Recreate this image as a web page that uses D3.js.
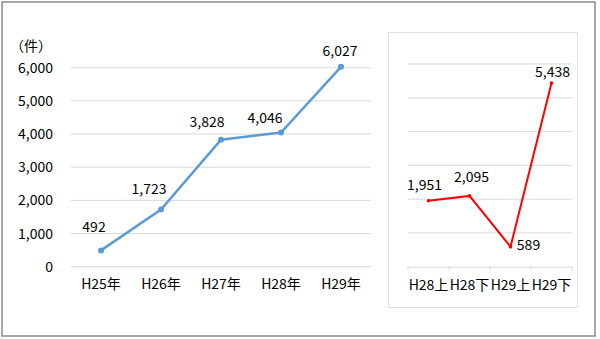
<!DOCTYPE html>
<html>
<head>
<meta charset="utf-8">
<script src="https://cdn.jsdelivr.net/npm/d3@7"></script>
<style>
body { margin: 0; background: #fff; }
text { font-family: "Noto Sans CJK JP", "Noto Sans", sans-serif; fill: #000; }
</style>
</head>
<body>
<script>
// yearly totals
var years = ["H25年", "H26年", "H27年", "H28年", "H29年"];
var yearCounts = [492, 1723, 3828, 4046, 6027];

// half-year totals
var halves = ["H28上", "H28下", "H29上", "H29下"];
var halfCounts = [1951, 2095, 589, 5438];

var yTicks = [0, 1000, 2000, 3000, 4000, 5000, 6000];

var width = 600, height = 339;
var fs = "14px";

var svg = d3.select("body").append("svg")
    .attr("width", width)
    .attr("height", height);

// outer frame
svg.append("rect")
    .attr("x", 2).attr("y", 2)
    .attr("width", 593).attr("height", 334)
    .attr("fill", "#fff")
    .attr("stroke", "#8a8a8a")
    .attr("stroke-width", 1.5);

// ---- left chart ----
var x1 = d3.scaleBand().domain(years).range([71, 371]);
var y1 = d3.scaleLinear().domain([0, 6000]).range([266.7, 67.7]);

svg.append("g").selectAll("line")
    .data(yTicks)
    .enter().append("line")
    .attr("x1", 71).attr("x2", 371)
    .attr("y1", function(d) { return y1(d); })
    .attr("y2", function(d) { return y1(d); })
    .attr("stroke", "#d9d9d9");

svg.append("g")
    .attr("transform", "translate(53,0)")
    .call(d3.axisLeft(y1).tickValues(yTicks).tickSize(0).tickPadding(0)
        .tickFormat(d3.format(",")))
    .call(function(g) { g.select(".domain").remove(); })
    .selectAll("text")
    .style("font-size", fs);

svg.append("g")
    .attr("transform", "translate(0,266.7)")
    .call(d3.axisBottom(x1).tickSize(0).tickPadding(12))
    .call(function(g) { g.select(".domain").remove(); })
    .selectAll("text")
    .style("font-size", fs);

svg.append("text")
    .attr("x", 10).attr("y", 51)
    .style("font-size", fs)
    .text("（件）");

var line1 = d3.line()
    .x(function(d, i) { return x1(years[i]) + x1.bandwidth() / 2; })
    .y(function(d) { return y1(d); });

svg.append("path")
    .datum(yearCounts)
    .attr("d", line1)
    .attr("fill", "none")
    .attr("stroke", "#5b9bd5")
    .attr("stroke-width", 2.5);

svg.append("g").selectAll("circle")
    .data(yearCounts)
    .enter().append("circle")
    .attr("cx", function(d, i) { return x1(years[i]) + x1.bandwidth() / 2; })
    .attr("cy", function(d) { return y1(d); })
    .attr("r", 3)
    .attr("fill", "#5b9bd5");

// label nudges (dx, dy) relative to each point
var nudge1 = [[-7, -18], [-12, -16], [-14, -13], [-16, -10], [-1, -11]];
svg.append("g").selectAll("text")
    .data(yearCounts)
    .enter().append("text")
    .attr("x", function(d, i) { return x1(years[i]) + x1.bandwidth() / 2 + nudge1[i][0]; })
    .attr("y", function(d, i) { return y1(d) + nudge1[i][1]; })
    .attr("text-anchor", "middle")
    .style("font-size", fs)
    .text(function(d) { return d3.format(",")(d); });

// ---- right chart ----
svg.append("rect")
    .attr("x", 388.5).attr("y", 32.5)
    .attr("width", 189).attr("height", 275)
    .attr("fill", "#fff")
    .attr("stroke", "#e0e0e0");

var x2 = d3.scaleBand().domain(halves).range([408, 572]);
var y2 = d3.scaleLinear().domain([0, 6000]).range([266.7, 64]);

svg.append("g").selectAll("line")
    .data(yTicks.slice(1))
    .enter().append("line")
    .attr("x1", 408).attr("x2", 572)
    .attr("y1", function(d) { return y2(d); })
    .attr("y2", function(d) { return y2(d); })
    .attr("stroke", "#d9d9d9");

var ax2 = svg.append("g")
    .attr("transform", "translate(0,266.7)")
    .call(d3.axisBottom(x2).tickSize(0).tickPadding(13));
ax2.select(".domain").attr("stroke", "#d9d9d9");
ax2.selectAll("text").style("font-size", fs);

// boundary tick marks between categories
svg.append("g").selectAll("line")
    .data(halves.concat(["end"]))
    .enter().append("line")
    .attr("x1", function(d, i) { return i < halves.length ? x2(d) : x2.range()[1]; })
    .attr("x2", function(d, i) { return i < halves.length ? x2(d) : x2.range()[1]; })
    .attr("y1", 266.7).attr("y2", 271)
    .attr("stroke", "#d9d9d9");

var line2 = d3.line()
    .x(function(d, i) { return x2(halves[i]) + x2.bandwidth() / 2; })
    .y(function(d) { return y2(d); });

svg.append("path")
    .datum(halfCounts)
    .attr("d", line2)
    .attr("fill", "none")
    .attr("stroke", "#ff0000")
    .attr("stroke-width", 2);

svg.append("g").selectAll("circle")
    .data(halfCounts)
    .enter().append("circle")
    .attr("cx", function(d, i) { return x2(halves[i]) + x2.bandwidth() / 2; })
    .attr("cy", function(d) { return y2(d); })
    .attr("r", 1.8)
    .attr("fill", "#ff0000");

var nudge2 = [[-4, -11], [2, -14], [18, 3], [1, -6]];
svg.append("g").selectAll("text")
    .data(halfCounts)
    .enter().append("text")
    .attr("x", function(d, i) { return x2(halves[i]) + x2.bandwidth() / 2 + nudge2[i][0]; })
    .attr("y", function(d, i) { return y2(d) + nudge2[i][1]; })
    .attr("text-anchor", "middle")
    .style("font-size", fs)
    .text(function(d) { return d3.format(",")(d); });
</script>
</body>
</html>
